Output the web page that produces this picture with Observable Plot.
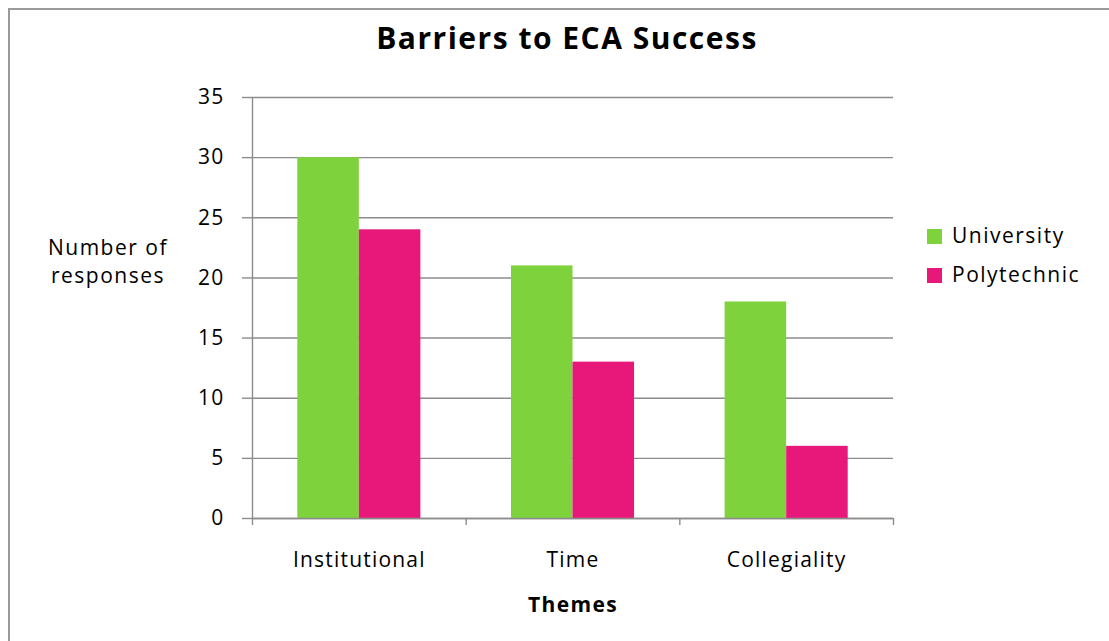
<!DOCTYPE html>
<html>
<head>
<meta charset="utf-8">
<script src="https://cdn.jsdelivr.net/npm/d3@7"></script>
<script src="https://cdn.jsdelivr.net/npm/@observablehq/plot@0.6"></script>
<style>
  html, body { margin: 0; padding: 0; background: #fff; }
  #wrap { position: relative; width: 1109px; height: 641px; overflow: hidden; background: #fff;
          font-family: "Open Sans", sans-serif; color: #000; }
  #border { position: absolute; left: 8px; top: 8px; width: 1200px; height: 700px;
            border-left: 2px solid #9a9a9a; border-top: 2px solid #9a9a9a; }
  #chart { position: absolute; left: 0; top: 0; }
  #chart svg text { letter-spacing: 1.2px; }
  .abs { position: absolute; white-space: nowrap; }
  #title { left: 367px; width: 400px; text-align: center; top: 23px; font-size: 30px; line-height: 30px;
           font-weight: 700; letter-spacing: 1.5px; }
  #ylabel { left: 28px; width: 160px; text-align: center; top: 233px; font-size: 21px; line-height: 28px; letter-spacing: 1.5px; }
  #xlabel { left: 473px; width: 200px; text-align: center; top: 594px; font-size: 21px; line-height: 21px; font-weight: 700; letter-spacing: 1.4px; }
  .leg { left: 927px; font-size: 21px; line-height: 21px; letter-spacing: 1.5px; }
  .sw { display: inline-block; width: 15px; height: 15px; margin-right: 10px; vertical-align: -1px; }
</style>
</head>
<body>
<div id="wrap">
  <div id="border"></div>
  <div id="chart"></div>
  <div id="title" class="abs"></div>
  <div id="ylabel" class="abs"></div>
  <div id="xlabel" class="abs"></div>
  <div id="legend"></div>
</div>
<script>
const title = "Barriers to ECA Success";
const yLabelLines = ["Number of", "responses"];
const xLabel = "Themes";
const categories = ["Institutional", "Time", "Collegiality"];
const series = ["University", "Polytechnic"];
const university = [30, 21, 18];
const polytechnic = [24, 13, 6];
const yTicks = [0, 5, 10, 15, 20, 25, 30, 35];
const colors = ["#7ed23c", "#e8187a"];

const gridColor = "#8c8c8c";
const barWidth = 0.288; // fraction of each category band

const values = [university, polytechnic];
const data = [];
categories.forEach((c, i) => {
  series.forEach((s, k) => {
    data.push({category: c, series: s, value: values[k][i], i, k});
  });
});

const chart = Plot.plot({
  width: 1109,
  height: 641,
  marginLeft: 252,
  marginRight: 216,
  marginTop: 97,
  marginBottom: 123,
  style: {background: "transparent", fontFamily: "Open Sans, sans-serif", fontSize: "21px", color: "#000", overflow: "visible"},
  x: {domain: [0, categories.length]},
  y: {domain: [0, 35]},
  color: {domain: series, range: colors},
  marks: [
    Plot.gridY(yTicks, {stroke: gridColor, strokeOpacity: 1, strokeWidth: 1.4}),
    Plot.rectY(data, {
      x1: d => d.i + 0.5 - (d.k === 0 ? barWidth : 0),
      x2: d => d.i + 0.5 + (d.k === 1 ? barWidth : 0),
      y: "value",
      fill: "series"
    }),
    Plot.ruleX([0], {stroke: gridColor, strokeWidth: 1.4}),
    Plot.ruleY([0], {stroke: gridColor, strokeWidth: 1.4}),
    Plot.axisY(yTicks, {tickSize: 10, tickPadding: 18, stroke: gridColor, strokeWidth: 1.4, fill: "#000", fontSize: 21, label: null}),
    Plot.axisX(d3.range(categories.length + 1), {tickSize: 7, tickFormat: () => "", stroke: gridColor, strokeWidth: 1.4, label: null}),
    Plot.axisX(categories.map((c, i) => i + 0.5), {tickSize: 0, tickPadding: 34, tickFormat: v => categories[Math.floor(v)], fill: "#000", fontSize: 21, label: null})
  ]
});
document.getElementById("chart").appendChild(chart);

document.getElementById("title").textContent = title;
document.getElementById("ylabel").innerHTML = yLabelLines.join("<br>");
document.getElementById("xlabel").textContent = xLabel;

const legend = document.getElementById("legend");
series.forEach((s, k) => {
  const item = document.createElement("div");
  item.className = "abs leg";
  item.style.top = (224.5 + k * 39) + "px";
  item.innerHTML = `<span class="sw" style="background:${colors[k]}"></span>${s}`;
  legend.appendChild(item);
});
</script>
</body>
</html>
